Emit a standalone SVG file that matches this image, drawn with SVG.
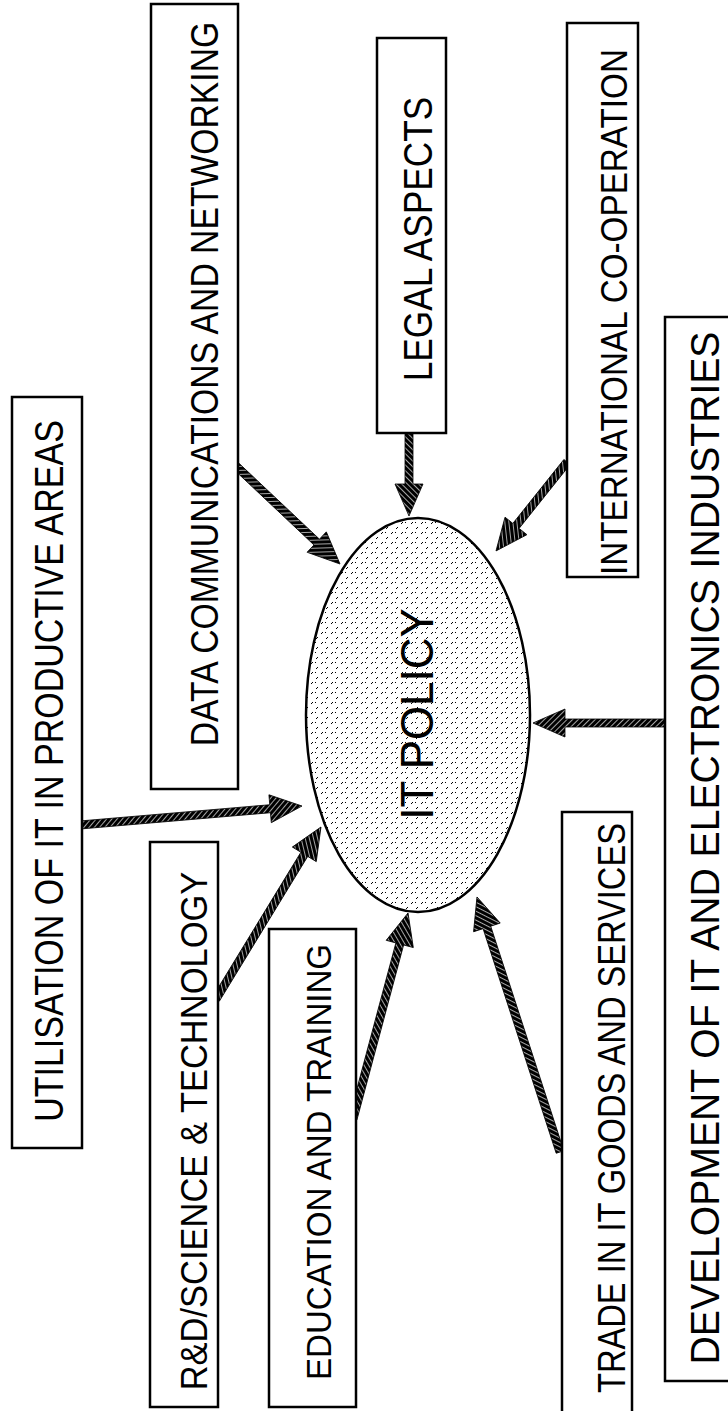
<svg xmlns="http://www.w3.org/2000/svg" width="728" height="1411" viewBox="0 0 728 1411">
<style>
.box{fill:#fff;stroke:#000;stroke-width:2.5}
.lbl{font-family:"Liberation Sans",Arial,sans-serif;fill:#000;text-anchor:middle}
.arr{fill:url(#hatch);stroke:#000;stroke-width:0.8}
</style>
<defs>
<pattern id="hatch" width="4" height="4" patternUnits="userSpaceOnUse" patternTransform="rotate(45)">
<rect width="4" height="4" fill="#000"/>
<line x1="0" y1="0" x2="0" y2="4" stroke="#fff" stroke-width="1.3"/>
</pattern>
<pattern id="dots" width="10" height="10" patternUnits="userSpaceOnUse">
<rect width="10" height="10" fill="#fff"/>
<path d="M1,4 l2,-2 M6,9 l2,-2" stroke="#000" stroke-width="1"/>
<rect x="5" y="2" width="1" height="1" fill="#000"/>
</pattern>
</defs>
<rect width="728" height="1411" fill="#fff"/>

<g id="connectors">
<path class="arr" transform="translate(80,825) rotate(-4.89)" d="M0,-4 L190.8,-4 L190.8,-14 L222.8,0 L190.8,14 L190.8,4 L0,4 Z"/>
<path class="arr" transform="translate(236,466) rotate(43.3)" d="M0,-4 L110.9,-4 L110.9,-14 L142.9,0 L110.9,14 L110.9,4 L0,4 Z"/>
<path class="arr" transform="translate(409,434) rotate(90)" d="M0,-4 L50,-4 L50,-14 L82,0 L50,14 L50,4 L0,4 Z"/>
<path class="arr" transform="translate(567,462) rotate(128.6)" d="M0,-4 L81.8,-4 L81.8,-14 L113.8,0 L81.8,14 L81.8,4 L0,4 Z"/>
<path class="arr" transform="translate(666,723) rotate(180)" d="M0,-4 L101,-4 L101,-14 L133,0 L101,14 L101,4 L0,4 Z"/>
<path class="arr" transform="translate(216,999) rotate(-58.6)" d="M0,-4 L169.5,-4 L169.5,-14 L201.5,0 L169.5,14 L169.5,4 L0,4 Z"/>
<path class="arr" transform="translate(353,1119) rotate(-75.05)" d="M0,-4 L181.2,-4 L181.2,-14 L213.2,0 L181.2,14 L181.2,4 L0,4 Z"/>
<path class="arr" transform="translate(560,1152) rotate(-108.03)" d="M0,-4 L236.2,-4 L236.2,-14 L268.2,0 L236.2,14 L236.2,4 L0,4 Z"/>
</g>

<g id="it-policy">
<ellipse cx="418" cy="715" rx="112" ry="197" fill="url(#dots)" stroke="#000" stroke-width="2.5"/>
<text class="lbl" transform="translate(433,714) rotate(-90) scale(0.954,1)" font-size="46">IT POLICY</text>
</g>

<g id="utilisation">
<rect class="box" x="12" y="397" width="70" height="751"/>
<text class="lbl" transform="translate(63,771) rotate(-90) scale(0.83,1)" font-size="41">UTILISATION OF IT IN PRODUCTIVE AREAS</text>
</g>

<g id="data-comm">
<rect class="box" x="151" y="4" width="87" height="785"/>
<text class="lbl" transform="translate(218,384) rotate(-90) scale(0.887,1)" font-size="38">DATA COMMUNICATIONS AND NETWORKING</text>
</g>

<g id="legal">
<rect class="box" x="377" y="38" width="69" height="395"/>
<text class="lbl" transform="translate(432,239) rotate(-90) scale(0.881,1)" font-size="40">LEGAL ASPECTS</text>
</g>

<g id="international">
<rect class="box" x="567" y="23" width="71" height="554"/>
<text class="lbl" transform="translate(627,312) rotate(-90) scale(0.899,1)" font-size="37">INTERNATIONAL CO-OPERATION</text>
</g>

<g id="development">
<rect class="box" x="665" y="317" width="70" height="1064"/>
<text class="lbl" transform="translate(719,848) rotate(-90) scale(0.978,1)" font-size="40">DEVELOPMENT OF IT AND ELECTRONICS INDUSTRIES</text>
</g>

<g id="rnd">
<rect class="box" x="150" y="842" width="68" height="565"/>
<text class="lbl" transform="translate(207,1131) rotate(-90) scale(0.958,1)" font-size="36">R&amp;D/SCIENCE &amp; TECHNOLOGY</text>
</g>

<g id="education">
<rect class="box" x="269" y="929" width="87" height="478"/>
<text class="lbl" transform="translate(331,1162) rotate(-90) scale(0.919,1)" font-size="36">EDUCATION AND TRAINING</text>
</g>

<g id="trade">
<rect class="box" x="562" y="812" width="70" height="605"/>
<text class="lbl" transform="translate(625,1108) rotate(-90) scale(0.859,1)" font-size="38">TRADE IN IT GOODS AND SERVICES</text>
</g>
</svg>
